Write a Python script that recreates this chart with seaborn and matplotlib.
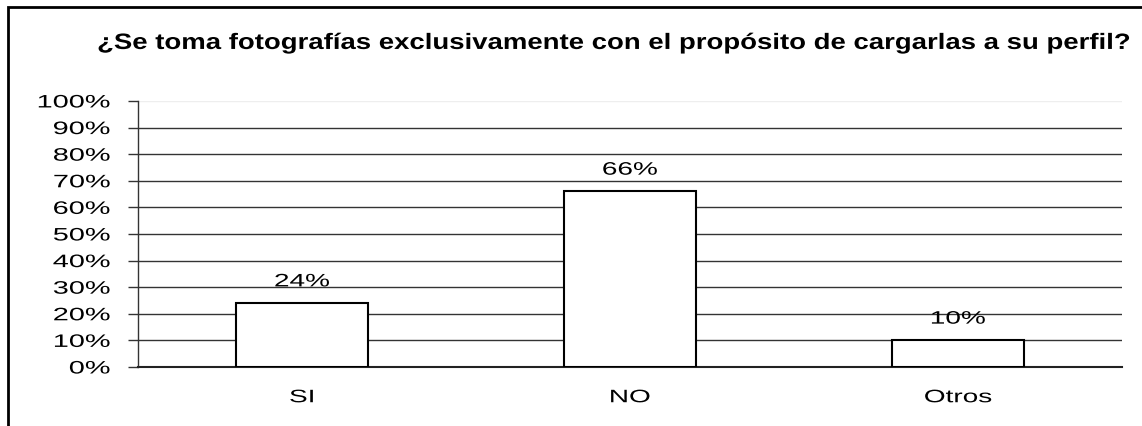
import matplotlib
matplotlib.use("Agg")
import matplotlib.pyplot as plt
import seaborn as sns
import pandas as pd
from matplotlib.patches import Rectangle
from matplotlib.ticker import FixedLocator
from matplotlib.transforms import Affine2D
from matplotlib import patheffects

categories = ["SI", "NO", "Otros"]
values = [24, 66, 10]
y_ticks = list(range(0, 101, 10))
title = "¿Se toma fotografías exclusivamente con el propósito de cargarlas a su perfil?"


class HStretch(patheffects.AbstractPathEffect):
    """Widen glyphs horizontally around a fixed anchor (left, center or right)."""

    def __init__(self, sx, anchor="center"):
        super().__init__()
        self.sx = sx
        self.anchor = anchor

    def draw_path(self, renderer, gc, tpath, affine, rgbFace=None):
        ext = tpath.get_extents()
        if self.anchor == "right":
            x0 = ext.x1
        elif self.anchor == "left":
            x0 = ext.x0
        else:
            x0 = 0.5 * (ext.x0 + ext.x1)
        t = Affine2D().translate(-x0, 0).scale(self.sx, 1).translate(x0, 0) + affine
        renderer.draw_path(gc, tpath, t, rgbFace)


sns.set_theme(style="white")
plt.rcParams["font.family"] = ["Liberation Sans", "DejaVu Sans"]

df = pd.DataFrame({"categoria": categories, "porcentaje": values})

fig = plt.figure(figsize=(11.42, 4.26), dpi=100)
ax = fig.add_axes([0.1208, 0.1385, 0.8617, 0.6245])

sns.barplot(data=df, x="categoria", y="porcentaje", ax=ax, color="white",
            edgecolor="black", linewidth=1.5, width=0.405, saturation=1, zorder=3)

ax.set_ylim(0, 100)
ax.set_xlim(-0.5, len(categories) - 0.5)
ax.set_yticks(y_ticks)
ax.set_yticklabels([f"{t}%" for t in y_ticks], fontsize=13, color="black")
ax.set_xticks(range(len(categories)))
ax.set_xticklabels(categories, fontsize=13, color="black")
ax.xaxis.set_minor_locator(FixedLocator([i - 0.5 for i in range(len(categories) + 1)]))
ax.tick_params(axis="x", which="major", length=0, pad=16)
ax.tick_params(axis="x", which="minor", length=6, width=1, color="#555555", direction="out")
ax.tick_params(axis="y", length=7, width=1, color="#333333", direction="out", pad=13, left=True)
ax.set_xlabel("")
ax.set_ylabel("")

for lab in ax.get_yticklabels():
    lab.set_path_effects([HStretch(1.6, "right")])
for lab in ax.get_xticklabels():
    lab.set_path_effects([HStretch(1.55, "center")])

# horizontal gridlines
for t in y_ticks[1:-1]:
    ax.axhline(t, color="#333333", linewidth=1, zorder=1)
ax.axhline(100, color="#eeeeee", linewidth=1, zorder=1)

for side in ["top", "right"]:
    ax.spines[side].set_visible(False)
ax.spines["left"].set_color("#333333")
ax.spines["bottom"].set_color("#222222")
ax.spines["left"].set_linewidth(1)
ax.spines["bottom"].set_linewidth(1.5)

for i, v in enumerate(values):
    ax.text(i, v + 6.3, f"{v}%", ha="center", va="baseline", fontsize=13,
            color="black", path_effects=[HStretch(1.55, "center")])

fig.text(0.537, 0.898, title, ha="center", va="center", fontsize=16,
         fontweight="bold", color="black", path_effects=[HStretch(1.24, "center")])

# outer frame
fig.patches.append(Rectangle((8 / 1142, -0.05), 1.2, 1 - 7 / 426 + 0.05,
                             transform=fig.transFigure, fill=False,
                             edgecolor="black", linewidth=2, zorder=10))

fig.savefig("out.png", dpi=100, facecolor="white")
